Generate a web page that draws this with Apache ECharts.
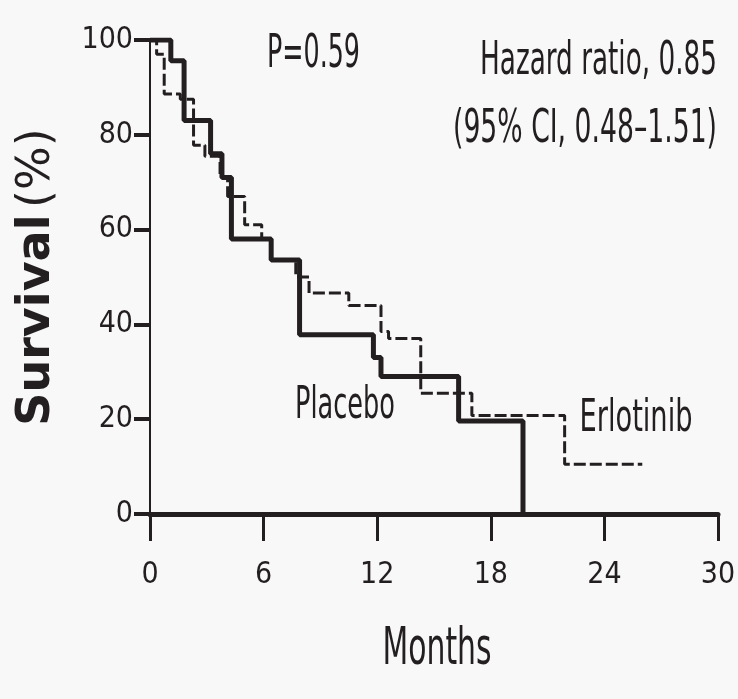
<!DOCTYPE html>
<html>
<head>
<meta charset="utf-8">
<script src="https://cdn.jsdelivr.net/npm/echarts@6/dist/echarts.min.js"></script>
<style>
  html, body { margin: 0; padding: 0; background: #f8f8f8; }
  #chart { width: 738px; height: 699px; }
</style>
</head>
<body>
<div id="chart"></div>
<script>
// survival step curves, [month, % surviving from that month on]
const placebo = [
  [0, 100], [1.1, 95.6], [1.8, 83], [3.2, 76], [3.8, 71], [4.3, 58],
  [6.4, 53.6], [7.9, 37.8], [11.8, 33], [12.2, 29], [16.3, 19.6], [19.7, 0]
];
const erlotinib = [
  [0, 100], [0.35, 97], [0.75, 88.6], [1.6, 87.5], [2.3, 77.8], [2.9, 75.5],
  [3.7, 71], [4.1, 67], [5.0, 61], [5.9, 58], [6.4, 53.6], [7.7, 50],
  [8.4, 46.6], [10.5, 44], [12.2, 38.5], [12.6, 37], [14.3, 25.5],
  [17.0, 20.8], [21.9, 10.5], [26.0, 10.5]
];
const xTicks = [0, 6, 12, 18, 24, 30];
const yTicks = [0, 20, 40, 60, 80, 100];

const ink = '#231f20';
const cond = "'DejaVu Sans Condensed', 'DejaVu Sans', sans-serif";

// the original type is a tall condensed face; squeeze a normal one to the width seen
const ctx = document.createElement('canvas').getContext('2d');
function squeeze(text, size, width) {
  ctx.font = size + 'px ' + cond;
  return width / ctx.measureText(text).width;
}
function label(text, x, y, size, width, align) {
  return {
    type: 'text', x: x, y: y,
    scaleX: squeeze(text, size, width),
    style: {
      text: text, fill: ink, font: size + 'px ' + cond,
      textAlign: align, textVerticalAlign: 'middle'
    }
  };
}

const chart = echarts.init(document.getElementById('chart'));

chart.setOption({
  backgroundColor: '#f8f8f8',
  animation: false,
  grid: { left: 150, right: 20, top: 40, bottom: 185, containLabel: false, outerBoundsMode: 'none' },
  xAxis: {
    type: 'value',
    min: xTicks[0],
    max: xTicks[xTicks.length - 1],
    interval: 6,
    axisLine: { lineStyle: { color: ink, width: 5 } },
    axisTick: { inside: false, length: 27, lineStyle: { color: ink, width: 3 } },
    axisLabel: { color: ink, fontFamily: cond, fontSize: 30, margin: 46 },
    splitLine: { show: false }
  },
  yAxis: {
    type: 'value',
    min: yTicks[0],
    max: yTicks[yTicks.length - 1],
    interval: 20,
    name: '{b|Survival}  {n|(%)}',
    nameLocation: 'middle',
    nameGap: 90,
    nameTextStyle: {
      color: ink,
      rich: {
        b: { fontFamily: 'DejaVu Sans', fontWeight: 'bold', fontSize: 46, color: ink },
        n: { fontFamily: 'DejaVu Sans', fontSize: 46, color: ink }
      }
    },
    axisLine: { lineStyle: { color: ink, width: 2 } },
    axisTick: { inside: false, length: 16, lineStyle: { color: ink, width: 4 } },
    axisLabel: { color: ink, fontFamily: cond, fontSize: 30, margin: 17 },
    splitLine: { show: false }
  },
  series: [
    {
      name: 'Placebo',
      type: 'line',
      step: 'end',
      data: placebo,
      showSymbol: false,
      lineStyle: { color: ink, width: 5 },
      z: 3
    },
    {
      name: 'Erlotinib',
      type: 'line',
      step: 'end',
      data: erlotinib,
      showSymbol: false,
      lineStyle: { color: ink, width: 3, type: [12, 4] },
      z: 4
    }
  ],
  graphic: [
    label('P=0.59', 267, 55, 46, 93, 'left'),
    label('Hazard ratio, 0.85', 717, 62, 46, 237, 'right'),
    label('(95% CI, 0.48\u20131.51)', 717, 130, 46, 264, 'right'),
    label('Placebo', 345, 407, 44, 100, 'center'),
    label('Erlotinib', 636, 420, 44, 113, 'center'),
    label('Months', 437, 650, 52, 109, 'center')
  ]
});
</script>
</body>
</html>
